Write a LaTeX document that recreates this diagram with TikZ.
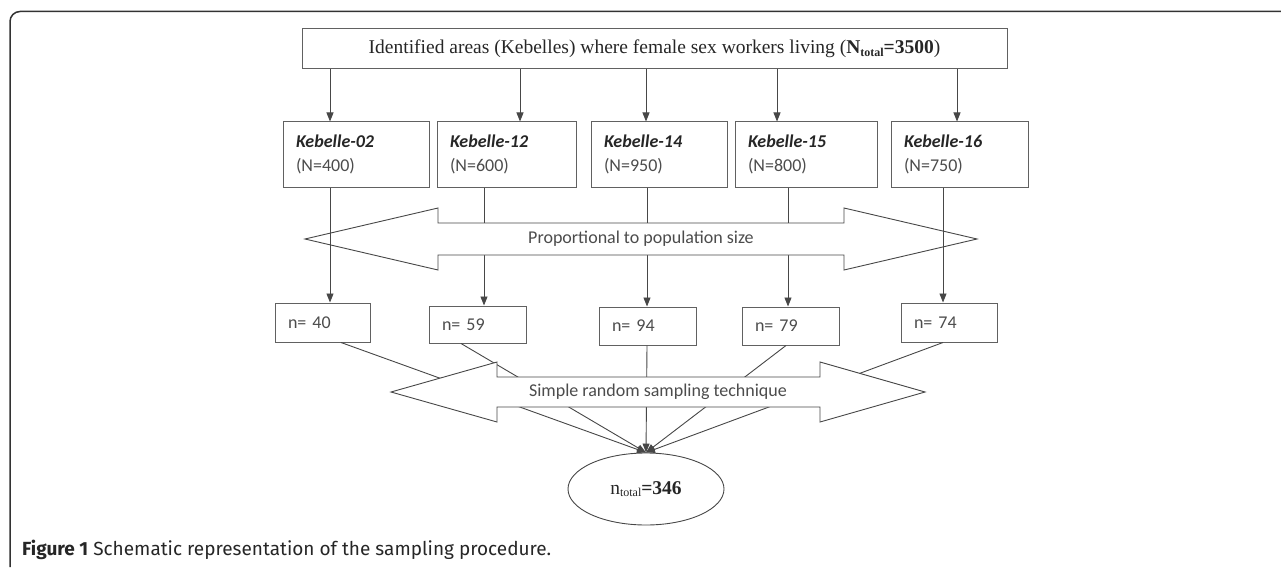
\documentclass[tikz,border=0pt]{standalone}
\usepackage{fontspec}
\setmainfont{Liberation Serif}
\newfontfamily\calfont{Carlito}
\newfontfamily\capfont{Fira Sans}
\usetikzlibrary{arrows.meta,calc,shapes.geometric}
\definecolor{linecol}{gray}{0.28}
\definecolor{boxcol}{gray}{0.38}
\definecolor{txtgray}{gray}{0.3}
\definecolor{framecol}{gray}{0.2}
\tikzset{
  conn/.style={draw=linecol, line width=0.9pt},
  arr/.style={conn, -{Triangle[length=9pt,width=7pt]}},
  topbox/.style={draw=boxcol, line width=1pt, inner sep=0pt, font=\fontsize{19.5}{23}\selectfont, text=black!85},
  kbox/.style={draw=boxcol, line width=1pt, inner xsep=13pt, inner ysep=0pt, minimum height=65pt, align=left, font=\calfont\fontsize{18}{23.5}\selectfont, text=txtgray},
  nbox/.style={draw=boxcol, line width=1pt, inner xsep=13pt, inner ysep=0pt, align=left, font=\calfont\fontsize{18}{20}\selectfont, text=txtgray},
  dblarrow/.style={draw=linecol, line width=0.9pt, fill=white},
  arrlabel/.style={font=\calfont\fontsize{18}{20}\selectfont, text=txtgray, inner sep=0pt},
  ellbox/.style={ellipse, draw=linecol, line width=0.9pt, minimum width=156pt, minimum height=72pt, inner sep=0pt, font=\fontsize{19.5}{23}\selectfont, text=black!85},
}
\newcommand{\kname}[1]{\textcolor{black!85}{\textbf{\textit{#1}}}}
\begin{document}
\begin{tikzpicture}[x=1pt,y=-1pt]
\useasboundingbox (0,0) rectangle (1281,567);
% frame
\draw[framecol, line width=1.5pt, rounded corners=10pt] (10,567) -- (10,11.5) -- (1281,11.5);

% top box
\node[topbox, minimum width=705pt, minimum height=40pt] (top) at (654.5,49)
  {Identified areas (Kebelles) where female sex workers living (\textbf{N}\raisebox{-0.3ex}{\fontsize{12}{12}\selectfont\textbf{total}}\textbf{=3500})};

% kebelle boxes
\node[kbox, text width=120pt] (k02) at (356,154.5) {\kname{Kebelle-02}\\(N=400)};
\node[kbox, text width=113pt] (k12) at (506.5,154.5) {\kname{Kebelle-12}\\(N=600)};
\node[kbox, text width=110pt] (k14) at (659,154.5) {\kname{Kebelle-14}\\(N=950)};
\node[kbox, text width=116pt] (k15) at (806,154.5) {\kname{Kebelle-15}\\(N=800)};
\node[kbox, text width=111pt] (k16) at (959.5,154.5) {\kname{Kebelle-16}\\(N=750)};

% n boxes
\node[nbox, text width=69pt, minimum height=39pt] (n40) at (322.5,322.5) {n= 40};
\node[nbox, text width=71pt, minimum height=37pt] (n59) at (477.5,324.5) {n= 59};
\node[nbox, text width=71pt, minimum height=38pt] (n94) at (647.5,326) {n= 94};
\node[nbox, text width=71pt, minimum height=38pt] (n79) at (790.5,326) {n= 79};
\node[nbox, text width=70pt, minimum height=39pt] (n74) at (949,322.5) {n= 74};

% ellipse
\node[ellbox] (tot) at (646,489) {n\raisebox{-0.3ex}{\fontsize{12}{12}\selectfont total}\textbf{=346}};

% x positions of connectors
\coordinate (a1) at (330,0);
\coordinate (a2) at (520,0);
\coordinate (a3) at (646,0);
\coordinate (a4) at (777,0);
\coordinate (a5) at (957,0);
\coordinate (b1) at (330,0);
\coordinate (b2) at (484,0);
\coordinate (b3) at (647,0);
\coordinate (b4) at (788,0);
\coordinate (b5) at (943,0);
\coordinate (c1) at (341,0);
\coordinate (c2) at (461,0);
\coordinate (c3) at (647,0);
\coordinate (c4) at (786,0);
\coordinate (c5) at (943,0);

% top arrows
\draw[arr] (top.south -| a1) -- (k02.north -| a1);
\draw[arr] (top.south -| a2) -- (k12.north -| a2);
\draw[arr] (top.south -| a3) -- (k14.north -| a3);
\draw[arr] (top.south -| a4) -- (k15.north -| a4);
\draw[arr] (top.south -| a5) -- (k16.north -| a5);

% connectors hidden by the double arrows
\draw[arr] (k12.south -| b2) -- (n59.north -| b2);
\draw[arr] (k14.south -| b3) -- (n94.north -| b3);
\draw[arr] (k15.south -| b4) -- (n79.north -| b4);
\draw[arr] (n40.south -| c1) -- (tot.north);
\draw[arr] (n59.south -| c2) -- (tot.north);
\draw[arr] (n94.south -| c3) -- (tot.north);
\draw[arr] (n79.south -| c4) -- (tot.north);
\draw[arr] (n74.south -| c5) -- (tot.north);

% double arrows
\draw[dblarrow] (305,239) -- (438,208) -- (438,223) -- (844,223) -- (844,208) -- (977,239)
  -- (844,270) -- (844,255) -- (438,255) -- (438,270) -- cycle;
\node[arrlabel] (lab1) at (641,239) {Proportional to population size};
\draw[dblarrow] (391,392) -- (497,362) -- (497,377) -- (820,377) -- (820,362) -- (925,392)
  -- (820,422) -- (820,407) -- (497,407) -- (497,422) -- cycle;
\node[arrlabel] (lab2) at (658,392) {Simple random sampling technique};

% connectors over the arrow heads
\draw[arr] (k02.south -| b1) -- (n40.north -| b1);
\draw[arr] (k16.south -| b5) -- (n74.north -| b5);

% caption
\node[anchor=base west, inner sep=0pt, font=\capfont\fontsize{19}{22}\selectfont, text=black!85] (cap) at (22,555)
  {\textbf{Figure 1} Schematic representation of the sampling procedure.};
\end{tikzpicture}
\end{document}
